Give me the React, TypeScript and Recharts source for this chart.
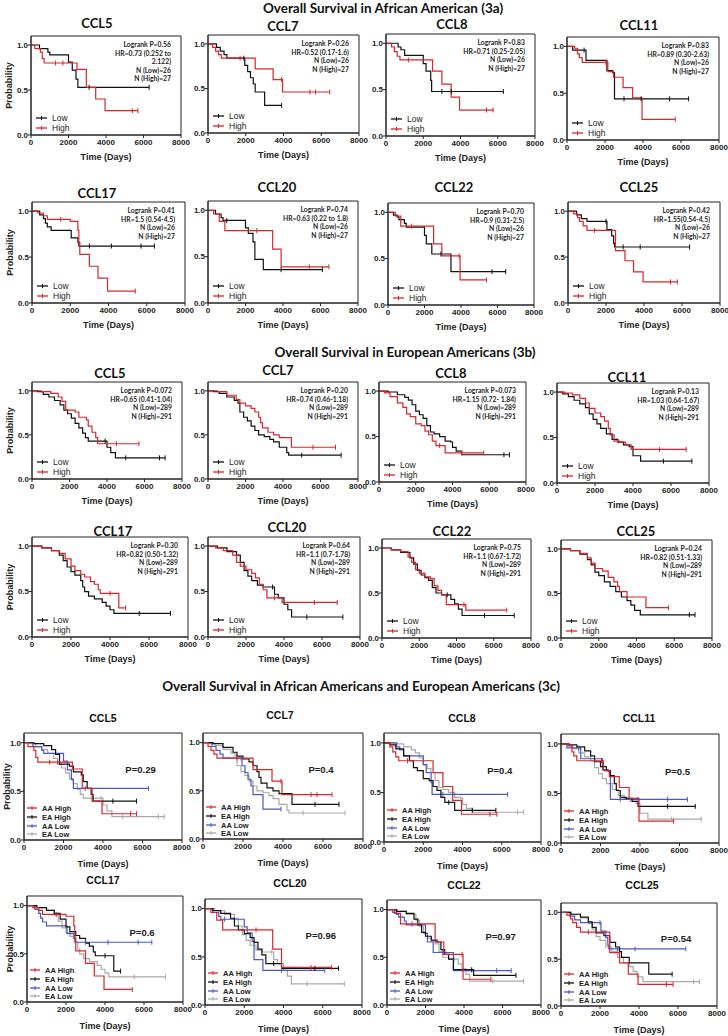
import React from 'react';
import { LineChart, Line, XAxis, YAxis, ReferenceArea, ReferenceDot } from 'recharts';

type Pt = [number, number];

const GENES = ['CCL5', 'CCL7', 'CCL8', 'CCL11', 'CCL17', 'CCL20', 'CCL22', 'CCL25'];
const X_TICKS = [0, 2000, 4000, 6000, 8000];
const Y_TICKS = [0, 0.5, 1];

// ---------- African American (3a) : [time, survival] ----------
const AA_LOW_CCL5: Pt[] = [[0,1],[450,0.96],[900,0.92],[1000,0.89],[2000,0.81],[2200,0.72],[2400,0.62],[2500,0.53],[3100,0.53],[6300,0.53]];
const AA_HIGH_CCL5: Pt[] = [[0,1],[200,0.96],[500,0.92],[600,0.85],[700,0.80],[1300,0.80],[1700,0.80],[2450,0.73],[2950,0.53],[3450,0.40],[3950,0.27],[5400,0.27],[5700,0.27]];
const AA_LOW_CCL7: Pt[] = [[0,1],[450,0.96],[650,0.92],[850,0.88],[1000,0.84],[1900,0.84],[1950,0.76],[2100,0.69],[2250,0.62],[2400,0.55],[2500,0.46],[3000,0.31],[3900,0.31]];
const AA_HIGH_CCL7: Pt[] = [[0,1],[250,0.96],[400,0.92],[550,0.88],[700,0.84],[1700,0.84],[2500,0.72],[3450,0.60],[3900,0.60],[3950,0.46],[5400,0.46],[5700,0.46],[6450,0.46]];
const AA_LOW_CCL8: Pt[] = [[0,1],[650,0.96],[800,0.93],[1000,0.87],[2000,0.78],[2150,0.70],[2400,0.60],[2450,0.48],[3000,0.48],[3500,0.48],[6300,0.48]];
const AA_HIGH_CCL8: Pt[] = [[0,1],[300,0.96],[450,0.91],[600,0.86],[750,0.82],[1200,0.82],[2500,0.70],[3000,0.56],[3500,0.42],[3950,0.28],[5400,0.28],[5750,0.28]];
const AA_LOW_CCL11: Pt[] = [[0,1],[300,0.96],[900,0.96],[1000,0.85],[2100,0.74],[2400,0.72],[2500,0.44],[3000,0.44],[3900,0.44],[5400,0.44],[6400,0.44]];
const AA_HIGH_CCL11: Pt[] = [[0,1],[400,0.98],[550,0.92],[650,0.88],[800,0.83],[2050,0.83],[2150,0.73],[2450,0.67],[2950,0.56],[3450,0.45],[3950,0.22],[5700,0.22]];
const AA_LOW_CCL17: Pt[] = [[0,1],[400,0.96],[600,0.92],[700,0.87],[800,0.83],[1000,0.79],[2050,0.71],[2400,0.66],[2450,0.62],[3000,0.62],[4150,0.62],[5700,0.62],[6400,0.62]];
const AA_HIGH_CCL17: Pt[] = [[0,1],[300,0.98],[600,0.95],[800,0.91],[1500,0.91],[2000,0.89],[2400,0.79],[2450,0.66],[2500,0.53],[3000,0.40],[3450,0.27],[3950,0.13],[5400,0.13]];
const AA_LOW_CCL20: Pt[] = [[0,1],[400,0.96],[700,0.92],[800,0.89],[1000,0.89],[2000,0.81],[2150,0.75],[2400,0.66],[2500,0.47],[2950,0.36],[3900,0.36],[6100,0.36]];
const AA_HIGH_CCL20: Pt[] = [[0,1],[300,0.96],[600,0.88],[900,0.78],[2600,0.78],[3450,0.58],[3900,0.39],[5400,0.39],[6450,0.39]];
const AA_LOW_CCL22: Pt[] = [[0,1],[300,0.97],[500,0.95],[600,0.92],[900,0.88],[1000,0.84],[2000,0.75],[2100,0.66],[2400,0.55],[2900,0.55],[3450,0.36],[5700,0.36],[6450,0.36]];
const AA_HIGH_CCL22: Pt[] = [[0,1],[400,0.96],[700,0.85],[1300,0.85],[2500,0.66],[2950,0.53],[3900,0.53],[3950,0.27],[5400,0.27]];
const AA_LOW_CCL25: Pt[] = [[0,1],[450,0.96],[700,0.92],[1000,0.89],[2000,0.89],[2050,0.80],[2300,0.73],[2400,0.65],[2450,0.61],[2900,0.61],[3800,0.61],[6400,0.61]];
const AA_HIGH_CCL25: Pt[] = [[0,1],[300,0.97],[500,0.93],[600,0.89],[800,0.84],[1000,0.79],[1400,0.79],[2500,0.57],[3000,0.46],[3450,0.34],[3950,0.23],[5400,0.23],[5750,0.23]];

// ---------- European American (3b) ----------
const EA_LOW_CCL5: Pt[] = [[0,1],[300,0.99],[600,0.96],[900,0.93],[1200,0.89],[1500,0.84],[1700,0.78],[1900,0.74],[2100,0.69],[2300,0.63],[2500,0.58],[2700,0.52],[2850,0.47],[3000,0.43],[3900,0.43],[4000,0.36],[4200,0.30],[4450,0.24],[5000,0.24],[6800,0.24],[7100,0.24]];
const EA_HIGH_CCL5: Pt[] = [[0,1],[500,0.99],[1000,0.97],[1400,0.93],[1600,0.88],[1800,0.78],[2300,0.76],[2500,0.70],[2900,0.67],[3000,0.60],[3200,0.53],[3400,0.47],[3500,0.40],[4500,0.40],[5700,0.40]];
const EA_LOW_CCL7: Pt[] = [[0,1],[300,0.99],[600,0.97],[1000,0.93],[1400,0.89],[1600,0.86],[1700,0.76],[1900,0.70],[2100,0.66],[2300,0.60],[2500,0.55],[2700,0.50],[3000,0.48],[3300,0.45],[3500,0.42],[3800,0.36],[4200,0.30],[4300,0.27],[5000,0.27],[7100,0.27]];
const EA_HIGH_CCL7: Pt[] = [[0,1],[500,0.99],[1000,0.95],[1500,0.90],[1700,0.86],[2000,0.83],[2300,0.80],[2500,0.76],[2700,0.70],[2800,0.64],[2900,0.58],[3200,0.53],[3500,0.50],[3800,0.47],[4450,0.36],[5600,0.36],[6800,0.36]];
const EA_LOW_CCL8: Pt[] = [[0,1],[500,0.99],[1000,0.96],[1400,0.93],[1600,0.90],[1800,0.85],[2000,0.78],[2200,0.74],[2400,0.70],[2600,0.62],[2800,0.55],[3000,0.53],[3300,0.50],[3600,0.45],[3900,0.44],[4000,0.38],[4200,0.34],[4500,0.30],[6800,0.30],[7100,0.30]];
const EA_HIGH_CCL8: Pt[] = [[0,1],[300,0.98],[600,0.94],[1000,0.87],[1300,0.82],[1500,0.75],[1700,0.72],[2000,0.64],[2300,0.62],[2500,0.56],[2700,0.52],[2900,0.45],[3100,0.40],[3300,0.40],[3600,0.32],[4500,0.32],[5700,0.32]];
const EA_LOW_CCL11: Pt[] = [[0,1],[300,0.98],[600,0.95],[900,0.91],[1200,0.87],[1500,0.83],[1700,0.76],[1900,0.70],[2100,0.65],[2300,0.60],[2600,0.54],[2900,0.48],[3200,0.45],[3500,0.42],[3800,0.40],[4000,0.30],[4400,0.24],[5600,0.24],[7100,0.24]];
const EA_HIGH_CCL11: Pt[] = [[0,1],[400,0.99],[800,0.97],[1200,0.93],[1500,0.88],[1700,0.82],[2000,0.77],[2300,0.73],[2500,0.68],[2700,0.60],[2800,0.53],[3000,0.46],[3300,0.45],[3600,0.42],[3900,0.37],[5400,0.37],[6800,0.37]];
const EA_LOW_CCL17: Pt[] = [[0,1],[500,0.98],[1000,0.95],[1400,0.90],[1600,0.84],[1800,0.77],[2000,0.72],[2200,0.68],[2500,0.62],[2600,0.55],[2700,0.50],[2900,0.45],[3200,0.42],[3600,0.38],[3800,0.34],[4000,0.30],[4200,0.26],[5500,0.26],[7100,0.26]];
const EA_HIGH_CCL17: Pt[] = [[0,1],[500,0.98],[1000,0.95],[1400,0.92],[1700,0.86],[2000,0.78],[2200,0.73],[2500,0.69],[2700,0.66],[3000,0.61],[3200,0.58],[3400,0.52],[3500,0.48],[4000,0.48],[4450,0.32],[4800,0.32]];
const EA_LOW_CCL20: Pt[] = [[0,1],[500,0.98],[1000,0.94],[1500,0.90],[1700,0.82],[1900,0.73],[2100,0.67],[2300,0.62],[2600,0.57],[2900,0.55],[3400,0.55],[3500,0.47],[3700,0.43],[4000,0.36],[4200,0.30],[4400,0.22],[5200,0.22],[7100,0.22]];
const EA_HIGH_CCL20: Pt[] = [[0,1],[400,0.98],[800,0.95],[1300,0.90],[1500,0.82],[1700,0.78],[2000,0.74],[2300,0.70],[2500,0.65],[2700,0.58],[2900,0.52],[3100,0.43],[3500,0.43],[3900,0.38],[5600,0.38],[6800,0.38]];
const EA_LOW_CCL22: Pt[] = [[0,1],[500,0.98],[1000,0.95],[1500,0.89],[1700,0.82],[1900,0.75],[2100,0.70],[2300,0.67],[2500,0.64],[2700,0.56],[2900,0.50],[3200,0.48],[3500,0.48],[3700,0.43],[3900,0.38],[4100,0.32],[4300,0.25],[5500,0.25],[7100,0.25]];
const EA_HIGH_CCL22: Pt[] = [[0,1],[500,0.98],[1000,0.96],[1400,0.90],[1600,0.84],[1800,0.76],[2000,0.72],[2300,0.68],[2600,0.66],[2800,0.58],[3000,0.53],[3200,0.48],[3450,0.37],[4400,0.37],[4500,0.31],[6700,0.31]];
const EA_LOW_CCL25: Pt[] = [[0,1],[500,0.98],[1000,0.94],[1400,0.88],[1600,0.82],[1800,0.74],[2000,0.70],[2300,0.63],[2600,0.58],[2900,0.52],[3200,0.46],[3500,0.42],[3700,0.37],[3900,0.31],[4200,0.26],[6800,0.26],[7100,0.26]];
const EA_HIGH_CCL25: Pt[] = [[0,1],[500,0.98],[1000,0.95],[1400,0.90],[1600,0.84],[1800,0.78],[2200,0.75],[2500,0.68],[2800,0.63],[3000,0.58],[3100,0.52],[3500,0.46],[4500,0.34],[5700,0.34]];

const AA_LOW = [AA_LOW_CCL5, AA_LOW_CCL7, AA_LOW_CCL8, AA_LOW_CCL11, AA_LOW_CCL17, AA_LOW_CCL20, AA_LOW_CCL22, AA_LOW_CCL25];
const AA_HIGH = [AA_HIGH_CCL5, AA_HIGH_CCL7, AA_HIGH_CCL8, AA_HIGH_CCL11, AA_HIGH_CCL17, AA_HIGH_CCL20, AA_HIGH_CCL22, AA_HIGH_CCL25];
const EA_LOW = [EA_LOW_CCL5, EA_LOW_CCL7, EA_LOW_CCL8, EA_LOW_CCL11, EA_LOW_CCL17, EA_LOW_CCL20, EA_LOW_CCL22, EA_LOW_CCL25];
const EA_HIGH = [EA_HIGH_CCL5, EA_HIGH_CCL7, EA_HIGH_CCL8, EA_HIGH_CCL11, EA_HIGH_CCL17, EA_HIGH_CCL20, EA_HIGH_CCL22, EA_HIGH_CCL25];

// ---------- statistics text ----------
const AA_LOGRANK = ['0.56', '0.26', '0.83', '0.83', '0.41', '0.74', '0.70', '0.42'];
const AA_HR = [['0.73 (0.252 to', '2.122)'], ['0.52 (0.17-1.6)'], ['0.71 (0.25-2.05)'], ['0.89 (0.30-2.63)'], ['1.5 (0.54-4.5)'], ['0.63 (0.22 to 1.8)'], ['0.9 (0.31-2.5)'], ['1.55(0.54-4.5)']];
const AA_N = [26, 27];
const EA_LOGRANK = ['0.072', '0.20', '0.073', '0.13', '0.30', '0.64', '0.75', '0.24'];
const EA_HR = [['0.65 (0.41-1.04)'], ['0.74 (0.46-1.18)'], ['1.15 (0.72- 1.84)'], ['1.03 (0.64-1.67)'], ['0.82 (0.50-1.32)'], ['1.1 (0.7-1.78)'], ['1.1 (0.67-1.72)'], ['0.82 (0.51-1.33)']];
const EA_N = [289, 291];
const COMBINED_P = ['0.29', '0.4', '0.4', '0.5', '0.6', '0.96', '0.97', '0.54'];

// ---------- layout: [x of t=0, x of t=8000, y of top(1.1), y of 0, title x, title y] ----------
type Geo = [number, number, number, number, number, number];
const GEO_AA: Geo[] = [
  [31, 181, 36, 135, 97, 23], [208, 359, 35, 133, 283, 26], [386, 535, 34, 136, 452, 24], [567, 719, 37, 140, 639, 25],
  [32, 185, 202, 303, 97, 193], [208, 358, 201, 303, 277, 187], [388, 534, 203, 305, 454, 187], [568, 720, 202, 303, 639, 187],
];
const GEO_EA: Geo[] = [
  [32, 182, 382, 479, 110, 373], [208, 358, 382, 479, 278, 370], [379, 526, 382, 482, 451, 373], [557, 709, 383, 483, 627, 377],
  [32, 188, 537, 637, 113, 531], [208, 360, 537, 637, 287, 527], [382, 531, 539, 638, 452, 531], [561, 712, 540, 638, 636, 531],
];
const GEO_ALL: Geo[] = [
  [24, 182, 733, 840, 103, 718], [203, 363, 733, 839, 280, 715], [384, 541, 733, 842, 462, 718], [561, 719, 734, 843, 639, 718],
  [27, 183, 896, 1002, 103, 880], [205, 362, 899, 1005, 290, 883], [387, 541, 900, 1005, 464, 885], [561, 717, 903, 1006, 642, 885],
];

const ARIAL = '"Liberation Sans", Arial, sans-serif';
const CALIBRI = 'Lato, "Open Sans", sans-serif';
const RED = '#d8262c';
const BLACK = '#111111';
const BLUE = '#4a58c0';
const GRAY = '#a9a9a9';
const AXIS = '#222222';

const YW = 32;
const MT = 4;
const MR = 14;

const rows = (pts: Pt[]) =>
  pts.map(([t, s], i) => ({ t, s, c: i > 0 && s === pts[i - 1][1] }));

const censorDot = (p: any) => {
  const { cx, cy, payload, stroke, index } = p;
  if (!payload || !payload.c || cx == null || cy == null) return <g key={`c${index}`} />;
  return <line key={`c${index}`} x1={cx} x2={cx} y1={cy - 2.5} y2={cy + 2.5} stroke={stroke} strokeWidth={1} />;
};

type Series = { name: string; pts: Pt[]; color: string };

function KMChart({ geo, series, xh, labelOffset, yLabel, yLabelOffset, pText }: { geo: Geo; series: Series[]; xh: number; labelOffset: number; yLabel: boolean; yLabelOffset: number; pText?: string }) {
  const [x0, x1, yTop, yBot] = geo;
  const width = x1 - x0 + YW + MR;
  const height = yBot - yTop + MT + xh;
  const tickStyle = { fontSize: 8, fontWeight: 700, fill: AXIS, fontFamily: ARIAL };
  return (
    <div style={{ position: 'absolute', left: x0 - YW, top: yTop - MT, width, height }}>
      <LineChart width={width} height={height} margin={{ top: MT, right: MR, left: 0, bottom: 0 }}>
        <XAxis
          type="number"
          dataKey="t"
          domain={[0, 8000]}
          ticks={X_TICKS}
          interval={0}
          allowDataOverflow
          height={xh}
          tick={tickStyle}
          tickSize={3}
          tickMargin={1}
          stroke={AXIS}
          label={{ value: 'Time (Days)', position: 'insideBottom', offset: labelOffset, style: { fontSize: 9, fontWeight: 700, fill: AXIS, fontFamily: ARIAL } }}
        />
        <YAxis
          type="number"
          dataKey="s"
          domain={[0, 1.1]}
          ticks={Y_TICKS}
          interval={0}
          allowDataOverflow
          width={YW}
          tick={tickStyle}
          tickSize={3}
          tickMargin={0}
          stroke={AXIS}
          tickFormatter={(v: number) => v.toFixed(1)}
          label={yLabel ? { value: 'Probability', angle: -90, position: 'insideLeft', offset: yLabelOffset, style: { textAnchor: 'middle', fontSize: 9, fontWeight: 700, fill: AXIS, fontFamily: ARIAL } } : undefined}
        />
        <ReferenceArea x1={0} x2={8000} y1={0} y2={1.1} fill="none" fillOpacity={0} stroke={AXIS} strokeWidth={1} ifOverflow="visible" />
        {series.map((s) => (
          <Line
            key={s.name}
            data={rows(s.pts)}
            dataKey="s"
            type="stepAfter"
            stroke={s.color}
            strokeWidth={1.2}
            dot={censorDot}
            activeDot={false}
            isAnimationActive={false}
          />
        ))}
        {pText ? (
          <ReferenceDot
            x={5900}
            y={0.72}
            r={0}
            fill="none"
            stroke="none"
            label={{ value: `P=${pText}`, position: 'center', fontSize: 9.5, fontWeight: 700, fill: AXIS, fontFamily: ARIAL }}
          />
        ) : null}
      </LineChart>
    </div>
  );
}

function Centered({ x, y, text, size, family }: { x: number; y: number; text: string; size: number; family: string }) {
  return (
    <div style={{ position: 'absolute', left: x, top: y, transform: 'translate(-50%, -50%)', whiteSpace: 'nowrap', fontFamily: family, fontWeight: 700, fontSize: size, lineHeight: 1, color: '#111' }}>
      {text}
    </div>
  );
}

function Stats({ geo, lines }: { geo: Geo; lines: string[] }) {
  const [, x1, yTop] = geo;
  return (
    <div style={{ position: 'absolute', left: x1 - 10 - 160, top: yTop + 4, width: 160, textAlign: 'right', fontFamily: CALIBRI, fontWeight: 700, fontSize: 6.8, lineHeight: '8.6px', color: '#222', whiteSpace: 'nowrap' }}>
      {lines.map((l, i) => (
        <div key={i}>{l}</div>
      ))}
    </div>
  );
}

function LegendBox({ geo, items, offsets, lineX, textX, size, bold }: { geo: Geo; items: Series[]; offsets: number[]; lineX: [number, number]; textX: number; size: number; bold: boolean }) {
  const [x0, , , yBot] = geo;
  return (
    <>
      {items.map((it, i) => {
        const cy = yBot - offsets[i];
        return (
          <div key={it.name} style={{ position: 'absolute', left: x0 + lineX[0], top: cy - 6, height: 12, display: 'flex', alignItems: 'center', whiteSpace: 'nowrap' }}>
            <svg width={lineX[1] - lineX[0]} height={12} style={{ display: 'block' }}>
              <line x1={0} x2={lineX[1] - lineX[0]} y1={6} y2={6} stroke={it.color} strokeWidth={1.3} />
              <line x1={(lineX[1] - lineX[0]) / 2} x2={(lineX[1] - lineX[0]) / 2} y1={4} y2={8} stroke={it.color} strokeWidth={1} />
            </svg>
            <span style={{ marginLeft: textX - lineX[1], fontFamily: ARIAL, fontSize: size, fontWeight: bold ? 700 : 400, color: '#222' }}>{it.name}</span>
          </div>
        );
      })}
    </>
  );
}

export default function App() {
  return (
    <div style={{ position: 'absolute', left: 0, top: 0, width: 728, height: 1036, background: '#fff', overflow: 'hidden' }}>
      <Centered x={383} y={8.5} text="Overall Survival in African American (3a)" size={13.5} family={CALIBRI} />
      <Centered x={405} y={353} text="Overall Survival in European Americans (3b)" size={13.5} family={CALIBRI} />
      <Centered x={361} y={687} text="Overall Survival in African Americans and European Americans (3c)" size={13.5} family={CALIBRI} />

      {GENES.map((g, i) => {
        const geo = GEO_AA[i];
        const series: Series[] = [
          { name: 'Low', pts: AA_LOW[i], color: BLACK },
          { name: 'High', pts: AA_HIGH[i], color: RED },
        ];
        return (
          <React.Fragment key={`aa-${g}`}>
            <Centered x={geo[4]} y={geo[5]} text={g} size={13} family={CALIBRI} />
            <KMChart geo={geo} series={series} xh={30} labelOffset={5} yLabel={i % 4 === 0} yLabelOffset={10} />
            <Stats geo={geo} lines={[`Logrank P=${AA_LOGRANK[i]}`, `HR=${AA_HR[i][0]}`, ...AA_HR[i].slice(1), `N (Low)=${AA_N[0]}`, `N (High)=${AA_N[1]}`]} />
            <LegendBox geo={geo} items={series} offsets={[17, 7]} lineX={[5, 16]} textX={21} size={8.5} bold={false} />
          </React.Fragment>
        );
      })}

      {GENES.map((g, i) => {
        const geo = GEO_EA[i];
        const series: Series[] = [
          { name: 'Low', pts: EA_LOW[i], color: BLACK },
          { name: 'High', pts: EA_HIGH[i], color: RED },
        ];
        return (
          <React.Fragment key={`ea-${g}`}>
            <Centered x={geo[4]} y={geo[5]} text={g} size={13} family={CALIBRI} />
            <KMChart geo={geo} series={series} xh={30} labelOffset={5} yLabel={i % 4 === 0} yLabelOffset={10} />
            <Stats geo={geo} lines={[`Logrank P=${EA_LOGRANK[i]}`, `HR=${EA_HR[i][0]}`, `N (Low)=${EA_N[0]}`, `N (High)=${EA_N[1]}`]} />
            <LegendBox geo={geo} items={series} offsets={[17, 7]} lineX={[5, 16]} textX={21} size={8.5} bold={false} />
          </React.Fragment>
        );
      })}

      {GENES.map((g, i) => {
        const geo = GEO_ALL[i];
        const series: Series[] = [
          { name: 'EA Low', pts: EA_LOW[i], color: GRAY },
          { name: 'AA Low', pts: AA_LOW[i], color: BLUE },
          { name: 'EA High', pts: EA_HIGH[i], color: BLACK },
          { name: 'AA High', pts: AA_HIGH[i], color: RED },
        ];
        const legendItems = [series[3], series[2], series[1], series[0]];
        return (
          <React.Fragment key={`all-${g}`}>
            <Centered x={geo[4]} y={geo[5]} text={g} size={10.5} family={ARIAL} />
            <KMChart geo={geo} series={series} xh={31} labelOffset={4} yLabel={i % 4 === 0} yLabelOffset={15} pText={COMBINED_P[i]} />
            <LegendBox geo={geo} items={legendItems} offsets={[32, 23, 14, 6]} lineX={[3, 13]} textX={18} size={7.5} bold={true} />
          </React.Fragment>
        );
      })}
    </div>
  );
}
